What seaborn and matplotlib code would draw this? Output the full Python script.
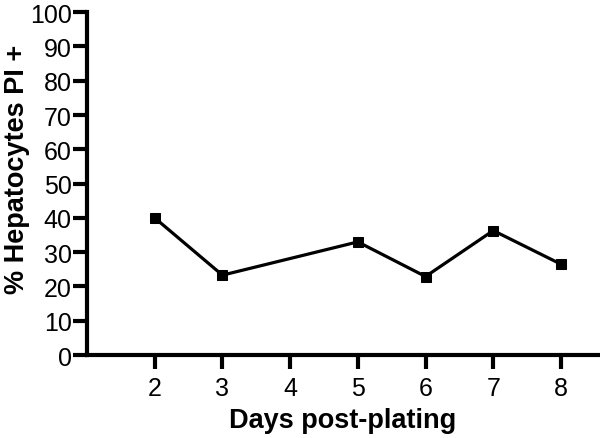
import pandas as pd
import seaborn as sns
import matplotlib.pyplot as plt

# values
days = [2, 3, 5, 6, 7, 8]
pct_pi = [40, 23.3, 33, 22.9, 36.3, 26.5]
xticks = [2, 3, 4, 5, 6, 7, 8]
yticks = list(range(0, 101, 10))

df = pd.DataFrame({'Day': days, 'PI': pct_pi})

sns.set_style('ticks')
plt.rcParams['font.family'] = ['Liberation Sans', 'DejaVu Sans']
plt.rcParams['text.color'] = 'black'
plt.rcParams['axes.labelcolor'] = 'black'

fig = plt.figure(figsize=(6, 4.39), dpi=100)
ax = fig.add_axes([0.145, 0.189, 0.852, 0.781])

sns.lineplot(data=df, x='Day', y='PI', ax=ax, color='black', linewidth=2.3,
             marker='s', markersize=7, markeredgecolor='black')

ax.set_xlim(1, 8.55)
ax.set_ylim(0, 100)
ax.set_xticks(xticks)
ax.set_yticks(yticks)
ax.tick_params(axis='both', direction='out', length=10, width=3,
               labelsize=18, color='black', labelcolor='black')
ax.tick_params(axis='y', pad=1)
ax.tick_params(axis='x', pad=5)

for s in ['top', 'right']:
    ax.spines[s].set_visible(False)
for s in ['left', 'bottom']:
    ax.spines[s].set_linewidth(3)
    ax.spines[s].set_color('black')

ax.set_xlabel('Days post-plating', fontsize=19.5, fontweight='bold',
              color='black', labelpad=5)
ax.set_ylabel('% Hepatocytes PI +', fontsize=19.5, fontweight='bold',
              color='black')
ax.yaxis.set_label_coords(-0.112, 0.545)

plt.savefig('out.png', dpi=100)
